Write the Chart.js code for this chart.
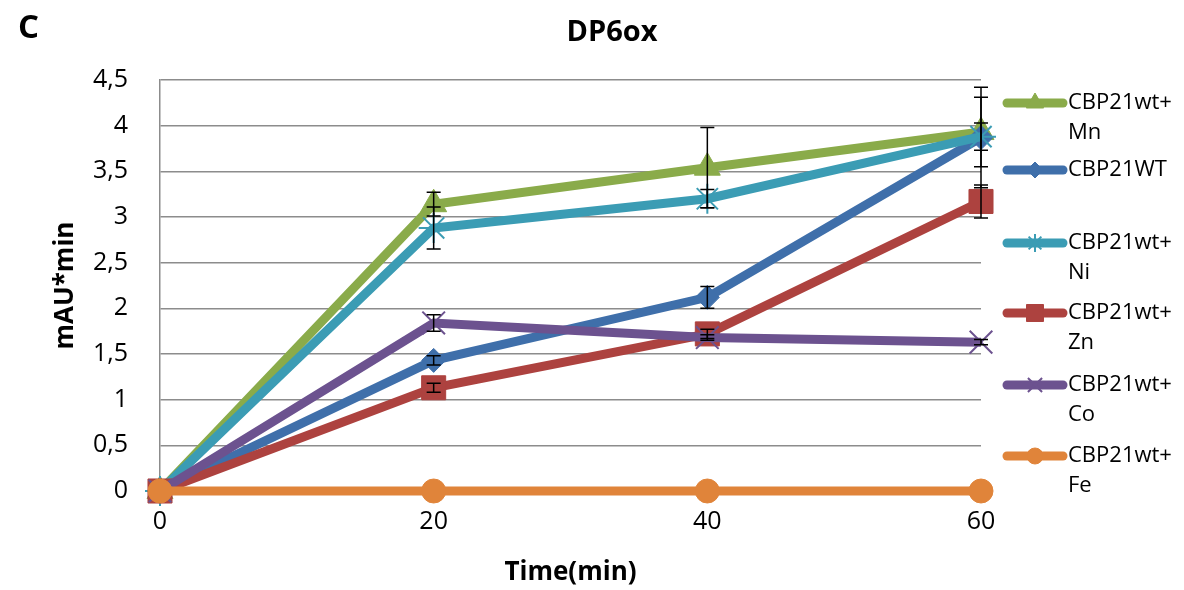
<!DOCTYPE html>
<html>
<head>
<meta charset="utf-8">
<script src="https://cdn.jsdelivr.net/npm/chart.js@4"></script>
<style>
  body { margin: 0; background: #fff; }
  #wrap { position: relative; width: 1184px; height: 590px; }
  #panel { position: absolute; left: 18px; top: 3px; font: bold 33px "Open Sans", sans-serif; }
  #title { position: absolute; left: 0; width: 1224px; top: 10px; text-align: center; font: bold 29px "Open Sans", sans-serif; }
</style>
</head>
<body>
<div id="wrap">
  <canvas id="chart" width="1184" height="590"></canvas>
  <div id="panel">C</div>
  <div id="title">DP6ox</div>
</div>
<script>
// 时间点（min）
const times = [0, 20, 40, 60];
const yTickLabels = ['0', '0,5', '1', '1,5', '2', '2,5', '3', '3,5', '4', '4,5'];

// 各组数据
const mnValues = [0, 3.14, 3.54, 3.93];
const wtValues = [0, 1.43, 2.12, 3.87];
const niValues = [0, 2.88, 3.20, 3.88];
const znValues = [0, 1.13, 1.72, 3.17];
const coValues = [0, 1.84, 1.68, 1.63];
const feValues = [0, 0, 0, 0];

// 误差（±）
const mnErr = [0, 0.13, 0.44, 0.38];
const wtErr = [0, 0.05, 0.12, 0.55];
const niErr = [0, 0.23, 0.10, 0.15];
const znErr = [0, 0.05, 0.05, 0.18];
const coErr = [0, 0.09, 0.03, 0.03];
const feErr = [0, 0, 0, 0];

const seriesLabels = [['CBP21wt+', 'Mn'], ['CBP21WT'], ['CBP21wt+', 'Ni'], ['CBP21wt+', 'Zn'], ['CBP21wt+', 'Co'], ['CBP21wt+', 'Fe']];

const FONT = '"Open Sans", sans-serif';

function pts(vals) {
  return vals.map((v, i) => ({ x: times[i], y: v }));
}

function makeSet(label, vals, errs, color, style, radius, legendRadius, pbw, order) {
  return {
    label: label.join(' '),
    legendText: label,
    legendRadius: legendRadius,
    data: pts(vals),
    errors: errs,
    borderColor: color,
    backgroundColor: color,
    borderWidth: 9,
    pointStyle: style,
    pointRadius: radius,
    pointHoverRadius: radius,
    pointBorderWidth: pbw,
    pointBorderColor: color,
    pointBackgroundColor: color,
    tension: 0,
    clip: false,
    order: order
  };
}

const datasets = [
  makeSet(seriesLabels[0], mnValues, mnErr, '#8aab4a', 'triangle', 15, 10, 1, 6),
  makeSet(seriesLabels[1], wtValues, wtErr, '#3f6faa', 'rectRot', 12, 8, 1, 5),
  makeSet(seriesLabels[2], niValues, niErr, '#3b9cb4', 'star', 15, 9, 2, 4),
  makeSet(seriesLabels[3], znValues, znErr, '#ad423f', 'rect', 17, 12, 1, 3),
  makeSet(seriesLabels[4], coValues, coErr, '#6c528f', 'crossRot', 16, 10, 2, 2),
  makeSet(seriesLabels[5], feValues, feErr, '#e0843a', 'circle', 12, 8, 1, 1)
];

// 误差线
const errorBars = {
  id: 'errorBars',
  afterDatasetsDraw(chart) {
    const ctx = chart.ctx;
    const xs = chart.scales.x, ys = chart.scales.y;
    ctx.save();
    ctx.strokeStyle = '#000';
    ctx.lineWidth = 1.5;
    chart.data.datasets.forEach(ds => {
      ds.data.forEach((p, i) => {
        const e = ds.errors[i];
        if (!e) return;
        const x = xs.getPixelForValue(p.x);
        const y1 = ys.getPixelForValue(p.y + e);
        const y2 = ys.getPixelForValue(p.y - e);
        ctx.beginPath();
        ctx.moveTo(x, y1); ctx.lineTo(x, y2);
        ctx.moveTo(x - 7, y1); ctx.lineTo(x + 7, y1);
        ctx.moveTo(x - 7, y2); ctx.lineTo(x + 7, y2);
        ctx.stroke();
      });
    });
    ctx.restore();
  }
};

// 右侧图例
const sideLegend = {
  id: 'sideLegend',
  afterDraw(chart) {
    const ctx = chart.ctx;
    const x0 = 1007, x1 = 1063, tx = 1068;
    const rows = [103, 170, 243, 313, 385, 456];
    ctx.save();
    chart.data.datasets.forEach((ds, i) => {
      const y = rows[i];
      ctx.strokeStyle = ds.borderColor;
      ctx.fillStyle = ds.borderColor;
      ctx.lineWidth = 9;
      ctx.lineCap = 'round';
      ctx.beginPath();
      ctx.moveTo(x0, y); ctx.lineTo(x1, y);
      ctx.stroke();
      ctx.lineCap = 'butt';
      ctx.lineWidth = ds.pointBorderWidth;
      Chart.helpers.drawPoint(ctx, {
        pointStyle: ds.pointStyle,
        radius: ds.legendRadius,
        borderWidth: ds.pointBorderWidth,
        rotation: 0
      }, (x0 + x1) / 2, y);
      ctx.fillStyle = '#000';
      ctx.font = '22px ' + FONT;
      ctx.textBaseline = 'middle';
      ctx.textAlign = 'left';
      ds.legendText.forEach((t, k) => ctx.fillText(t, tx, y + k * 30));
    });
    ctx.restore();
  }
};

new Chart(document.getElementById('chart'), {
  type: 'line',
  data: { datasets: datasets },
  plugins: [errorBars, sideLegend],
  options: {
    responsive: false,
    animation: false,
    layout: { padding: { top: 80, right: 203, left: 0, bottom: 0 } },
    plugins: { legend: { display: false }, tooltip: { enabled: false }, title: { display: false } },
    scales: {
      x: {
        type: 'linear',
        min: 0, max: 60,
        afterFit: s => { s.height = 99; },
        grid: { display: false, drawTicks: false },
        border: { display: false },
        ticks: { stepSize: 20, padding: 16, color: '#000', font: { family: FONT, size: 25 } },
        title: { display: true, text: 'Time(min)', color: '#000', font: { family: FONT, size: 26, weight: 'bold' }, padding: { top: 0, bottom: 2 } }
      },
      y: {
        min: 0, max: 4.5,
        afterFit: s => { s.width = 160; },
        grid: { color: '#8c8c8c', lineWidth: 1.5, drawTicks: false },
        border: { display: true, color: '#8c8c8c', width: 1.5 },
        ticks: {
          stepSize: 0.5, padding: 32, color: '#000',
          font: { family: FONT, size: 25 },
          callback: (v, i) => yTickLabels[i]
        },
        title: { display: true, text: 'mAU*min', color: '#000', font: { family: FONT, size: 26, weight: 'bold' }, padding: { top: 50, bottom: 0 } }
      }
    }
  }
});
</script>
</body>
</html>
